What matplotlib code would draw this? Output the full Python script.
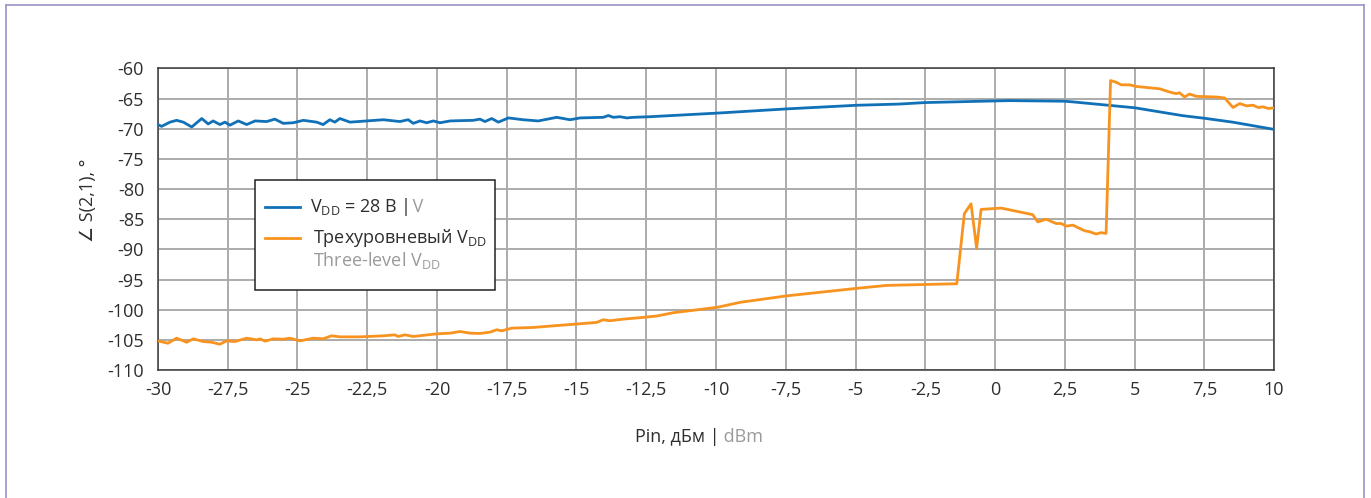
import numpy as np
import matplotlib
matplotlib.use('Agg')
import matplotlib.pyplot as plt
from matplotlib.lines import Line2D
from matplotlib.patches import Rectangle
from matplotlib.ticker import MultipleLocator, FuncFormatter

plt.rcParams['font.family'] = ['Open Sans', 'DejaVu Sans']
plt.rcParams['mathtext.fontset'] = 'custom'
plt.rcParams['mathtext.rm'] = 'Open Sans'

# Phase of S(2,1) vs input power, constant 28 V supply
pin_28v = [-30.0, -29.87, -29.57, -29.33, -29.09, -28.79, -28.43, -28.20, -28.02, -27.78,
           -27.60, -27.42, -27.12, -26.82, -26.52, -26.10, -25.81, -25.51, -25.15, -24.79,
           -24.31, -24.08, -23.84, -23.66, -23.48, -23.12, -22.52, -21.92, -21.33, -21.03,
           -20.85, -20.61, -20.37, -20.13, -19.89, -19.53, -18.70, -18.46, -18.28, -18.04,
           -17.80, -17.44, -16.91, -16.37, -15.71, -15.23, -14.87, -14.04, -13.86, -13.68,
           -13.44, -13.20, -12.96, -12.37, -9.95, -7.46, -4.96, -3.43, -2.5, 0.01, 0.51,
           2.51, 2.79, 5.01, 6.73, 7.51, 8.53, 10.0]
phase_28v = [-69.3, -69.6, -68.9, -68.6, -68.9, -69.7, -68.3, -69.2, -68.7, -69.3,
             -68.9, -69.4, -68.7, -69.3, -68.7, -68.8, -68.4, -69.1, -69.0, -68.6,
             -68.9, -69.3, -68.5, -68.9, -68.3, -68.9, -68.7, -68.5, -68.8, -68.5,
             -69.1, -68.7, -69.0, -68.7, -69.0, -68.7, -68.6, -68.4, -68.8, -68.3,
             -68.9, -68.2, -68.5, -68.7, -68.1, -68.5, -68.2, -68.1, -67.8, -68.1,
             -68.0, -68.2, -68.1, -68.0, -67.4, -66.7, -66.1, -65.9, -65.65, -65.38, -65.33,
             -65.43, -65.54, -66.52, -67.83, -68.26, -68.91, -70.1]

# Same, three-level supply
pin_3lvl = [-30.0, -29.64, -29.33, -28.97, -28.73, -28.38, -28.08, -27.78, -27.54, -27.24,
            -26.82, -26.46, -26.34, -26.16, -25.87, -25.51, -25.27, -24.91, -24.43, -24.08,
            -23.78, -23.48, -22.76, -21.92, -21.51, -21.39, -21.15, -20.85, -20.01, -19.53,
            -19.17, -18.82, -18.46, -18.10, -17.86, -17.68, -17.32, -16.55, -15.35, -14.28,
            -14.04, -13.80, -13.32, -12.72, -12.13, -11.53, -9.95, -9.14, -8.30, -7.46,
            -6.15, -4.96, -3.88, -2.46, -1.37, -1.10, -0.86, -0.66, -0.50, 0.22, 1.35,
            1.53, 1.83, 2.19, 2.37, 2.55, 2.79, 3.21, 3.39, 3.62, 3.80, 3.98, 4.14, 4.34,
            4.52, 4.82, 5.06, 5.90, 6.26, 6.50, 6.61, 6.79, 6.97, 7.21, 7.93, 8.23, 8.35,
            8.53, 8.77, 9.01, 9.25, 9.43, 9.61, 9.79, 10.0]
phase_3lvl = [-105.17, -105.56, -104.72, -105.39, -104.83, -105.28, -105.39, -105.72, -105.17, -105.28,
              -104.72, -105.0, -104.83, -105.22, -104.83, -104.89, -104.72, -105.17, -104.72, -104.83,
              -104.33, -104.5, -104.5, -104.33, -104.17, -104.44, -104.17, -104.44, -104.0, -103.89,
              -103.61, -103.89, -103.94, -103.72, -103.33, -103.5, -103.06, -102.94, -102.5, -102.11,
              -101.67, -101.83, -101.56, -101.32, -101.05, -100.5, -99.6, -98.78, -98.24, -97.7,
              -97.05, -96.46, -95.97, -95.81, -95.7, -84.07, -82.44, -89.8, -83.37, -83.15, -84.24,
              -85.44, -85.0, -85.71, -85.71, -86.14, -85.98, -86.91, -87.07, -87.45, -87.23, -87.34, -62.0, -62.28,
              -62.71, -62.71, -62.98, -63.37, -63.91, -64.18, -64.02, -64.73, -64.24, -64.62, -64.73, -64.89, -65.54,
              -66.47, -65.82, -66.2, -66.09, -66.47, -66.36, -66.63, -66.53]

blue = '#1070b8'
orange = '#f7931e'
grey_txt = '#9a9a9a'
dark_txt = '#2e2e2e'
fs = 13

fig = plt.figure(figsize=(13.71, 4.98), dpi=100)
ax = fig.add_axes([0.1152, 0.257, 0.8141, 0.6055])

ax.plot(pin_28v, phase_28v, color=blue, lw=2.0, solid_joinstyle='round', zorder=3)
ax.plot(pin_3lvl, phase_3lvl, color=orange, lw=2.0, solid_joinstyle='round', zorder=3)

ax.set_xlim(-30, 10)
ax.set_ylim(-110, -60)
ax.xaxis.set_major_locator(MultipleLocator(2.5))
ax.yaxis.set_major_locator(MultipleLocator(5))
comma = FuncFormatter(lambda v, pos: f'{v:g}'.replace('.', ','))
ax.xaxis.set_major_formatter(comma)
ax.yaxis.set_major_formatter(comma)
ax.tick_params(length=0, labelsize=fs, labelcolor=dark_txt)
ax.tick_params(axis='x', pad=8)
ax.tick_params(axis='y', pad=10)
ax.grid(True, color='#ababab', lw=1.4)
ax.set_axisbelow(True)
for s in ax.spines.values():
    s.set_color('#3a3a3a')
    s.set_linewidth(1.1)

# y label
fig.text(0.064, 0.598, '∠ S(2,1), °', rotation=90, ha='center', va='center',
         fontsize=fs, color=dark_txt)

# x label: Russian part dark, English part grey
t1 = fig.text(0.463, 0.112, 'Pin, дБм |', ha='left', va='baseline',
              fontsize=fs, color=dark_txt)
ax.annotate(' dBm', xy=(1, 0), xycoords=t1, va='bottom', ha='left',
            fontsize=fs, color=grey_txt)

# legend box
ax.add_patch(Rectangle((0.087, 0.265), 0.215, 0.365, transform=ax.transAxes,
                       facecolor='white', edgecolor='#222222', lw=1.1, zorder=5))
ax.add_line(Line2D([0.096, 0.127], [0.541, 0.541], transform=ax.transAxes,
                   color=blue, lw=2.0, zorder=6))
ax.add_line(Line2D([0.096, 0.127], [0.438, 0.438], transform=ax.transAxes,
                   color=orange, lw=2.0, zorder=6))
l1 = ax.text(0.136, 0.541, r'$\mathregular{V_{DD}}$ = 28 В |', transform=ax.transAxes,
             ha='left', va='center', fontsize=fs, color=dark_txt, zorder=6)
ax.annotate(' V', xy=(1, 0.27), xycoords=l1, va='baseline', ha='left',
            fontsize=fs, color=grey_txt, zorder=6)
ax.text(0.139, 0.438, r'Трехуровневый $\mathregular{V_{DD}}$', transform=ax.transAxes,
        ha='left', va='center', fontsize=fs, color=dark_txt, zorder=6)
ax.text(0.139, 0.362, r'Three-level $\mathregular{V_{DD}}$', transform=ax.transAxes,
        ha='left', va='center', fontsize=fs, color=grey_txt, zorder=6)

# thin frame around the figure
frame = '#9c94c9'
for xs, ys in [([0.0044, 0.0044], [0, 0.99]),
               ([0.0044, 0.9949], [0.99, 0.99]),
               ([0.9949, 0.9949], [0, 0.99])]:
    fig.add_artist(Line2D(xs, ys, transform=fig.transFigure, color=frame, lw=1.2))

fig.savefig('out.png', dpi=100)
